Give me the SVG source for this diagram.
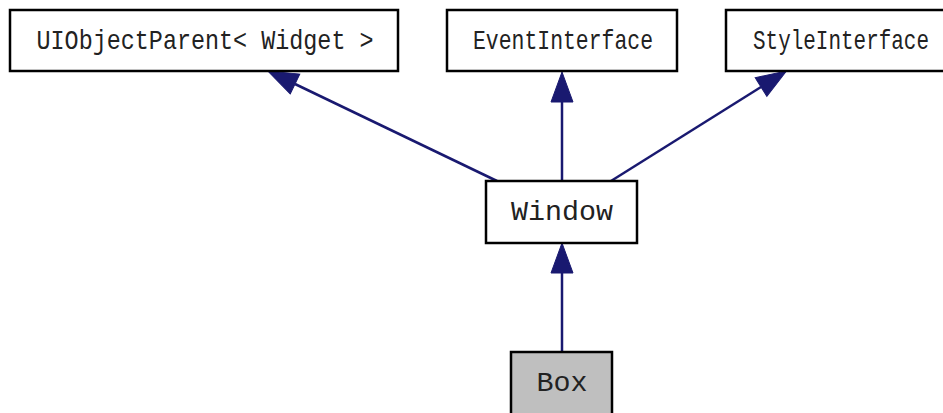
<svg xmlns="http://www.w3.org/2000/svg" width="943" height="413" viewBox="0 0 943 413">
<style>
.box{fill:#ffffff;stroke:#000000;stroke-width:2.5}
.gray{fill:#bfbfbf}
.lbl{font-family:"Liberation Mono","Courier New",monospace;font-size:28px;fill:#222222;text-anchor:middle}
.edge{stroke:#191970;stroke-width:2.5;fill:none}
</style>
<defs>
<marker id="ah" viewBox="0 -11 30 22" markerWidth="30" markerHeight="22" refX="0" refY="0" orient="auto" markerUnits="userSpaceOnUse" overflow="visible">
<path d="M0,-11 L30,0 L0,11 z" fill="#191970" stroke="#191970" stroke-width="1"/>
</marker>
</defs>
<g id="connectors">
<line class="edge" x1="497" y1="181" x2="295" y2="84" marker-end="url(#ah)"/>
<line class="edge" x1="562" y1="181" x2="562" y2="102" marker-end="url(#ah)"/>
<line class="edge" x1="611" y1="181" x2="761" y2="87" marker-end="url(#ah)"/>
<line class="edge" x1="562" y1="352" x2="562" y2="273" marker-end="url(#ah)"/>
</g>
<g id="node-uiobjectparent">
<rect class="box" x="10" y="10" width="388" height="61"/>
<text class="lbl" x="205" y="49" textLength="337" lengthAdjust="spacingAndGlyphs">UIObjectParent&lt; Widget &gt;</text>
</g>
<g id="node-eventinterface">
<rect class="box" x="447" y="10" width="230" height="61"/>
<text class="lbl" x="563" y="49" textLength="180" lengthAdjust="spacingAndGlyphs">EventInterface</text>
</g>
<g id="node-styleinterface">
<rect class="box" x="726" y="10" width="230" height="61"/>
<text class="lbl" x="841" y="49" textLength="176" lengthAdjust="spacingAndGlyphs">StyleInterface</text>
</g>
<g id="node-window">
<rect class="box" x="486" y="181" width="151" height="62"/>
<text class="lbl" x="562" y="220" textLength="102" lengthAdjust="spacingAndGlyphs">Window</text>
</g>
<g id="node-box">
<rect class="box gray" x="511" y="352" width="101" height="70"/>
<text class="lbl" x="562" y="391" textLength="51" lengthAdjust="spacingAndGlyphs">Box</text>
</g>
</svg>
